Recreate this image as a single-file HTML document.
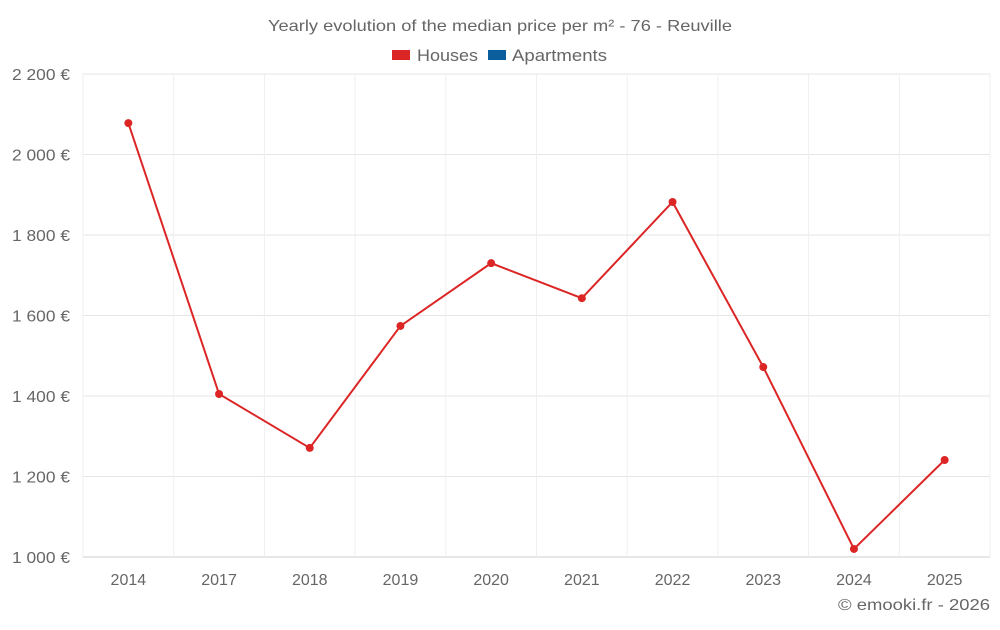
<!DOCTYPE html>
<html><head><meta charset="utf-8"><style>
body{margin:0;background:#fff;font-family:"Liberation Sans",sans-serif}
svg text{font-family:"Liberation Sans",sans-serif;fill:#666}
</style></head><body>
<svg width="1000" height="625">
<text x="268" y="31" font-size="16" textLength="464" lengthAdjust="spacingAndGlyphs">Yearly evolution of the median price per m² - 76 - Reuville</text>
<g><rect x="392" y="50" width="18" height="10" fill="#dc2626"/><text x="417" y="61" font-size="17" textLength="61" lengthAdjust="spacingAndGlyphs">Houses</text></g>
<g><rect x="488" y="50" width="18" height="10" fill="#0a5e9c"/><text x="512" y="61" font-size="17" textLength="95" lengthAdjust="spacingAndGlyphs">Apartments</text></g>
<g id="grid"></g><g id="axes"></g><g id="series"></g>
<text x="838" y="610" font-size="16" textLength="152" lengthAdjust="spacingAndGlyphs">© emooki.fr - 2026</text>
</svg>
<script>
const categories=["2014","2017","2018","2019","2020","2021","2022","2023","2024","2025"];
const housesValues=[2078,1405,1271,1574,1730,1643,1882,1472,1020,1241];
const yTicks=[1000,1200,1400,1600,1800,2000,2200];
const yTickLabels=["1 000 €","1 200 €","1 400 €","1 600 €","1 800 €","2 000 €","2 200 €"];
const L=83,R=990,T=74,B=557,ymin=1000,ymax=2200;
const bw=(R-L)/categories.length;
const xs=i=>L+bw*(i+0.5);
const ys=v=>B-(v-ymin)/(ymax-ymin)*(B-T);
const NS="http://www.w3.org/2000/svg";
function mk(p,t,a){const e=document.createElementNS(NS,t);for(const k in a)e.setAttribute(k,a[k]);p.appendChild(e);return e;}
const grid=document.getElementById('grid'),axes=document.getElementById('axes'),ser=document.getElementById('series');
yTicks.forEach((v,i)=>{
 const l=mk(grid,'line',{x1:L,x2:R,y1:ys(v),y2:ys(v),stroke:i==0?'#ccc':'#e6e6e6'});
 
 
 const t=mk(axes,'text',{x:12,y:ys(v)+6,'font-size':16,textLength:58,lengthAdjust:'spacingAndGlyphs'});
 t.textContent=yTickLabels[i];
 
 
});
for(let i=0;i<=categories.length;i++){
 const l=mk(grid,'line',{x1:L+bw*i,x2:L+bw*i,y1:T,y2:B,stroke:'#efefef'});
 
 
}
categories.forEach((c,i)=>{
 const t=mk(axes,'text',{x:xs(i),y:585,'text-anchor':'middle','font-size':16});
 t.textContent=c;
 
 
});
const pl=mk(ser,'polyline',{points:housesValues.map((v,i)=>xs(i)+','+ys(v)).join(' '),fill:'none',stroke:'#dc2626','stroke-width':2});


housesValues.forEach((v,i)=>{
 const c=mk(ser,'circle',{cx:xs(i),cy:ys(v),r:4,fill:'#dc2626'});
 
 
});
</script>
</body></html>
